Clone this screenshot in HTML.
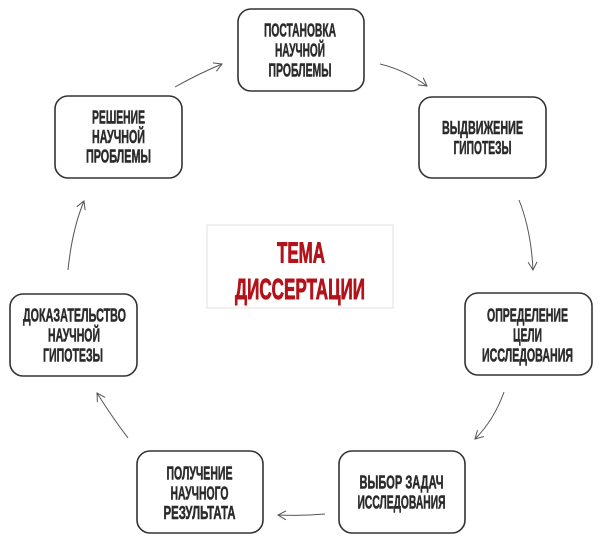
<!DOCTYPE html>
<html><head><meta charset="utf-8"><style>
html,body{margin:0;padding:0;background:#fff;}
svg{display:block;}
.t{font-family:"Liberation Sans","DejaVu Sans",sans-serif;font-weight:bold;font-size:18.5px;fill:#2b2b2b;stroke:#2b2b2b;stroke-width:0.55px;text-anchor:middle;}
.c{font-family:"Liberation Sans","DejaVu Sans",sans-serif;font-weight:bold;font-size:29px;fill:#b3121a;stroke:#b3121a;stroke-width:0.9px;text-anchor:middle;}
.b{fill:#fff;stroke:#333;stroke-width:1.6;}
.a{fill:none;stroke:#555;stroke-width:1;}
</style></head><body>
<svg width="600" height="539" viewBox="0 0 600 539" xmlns="http://www.w3.org/2000/svg">
<defs>
<marker id="ah" markerWidth="12" markerHeight="12" refX="9" refY="5" orient="auto" markerUnits="userSpaceOnUse">
<path d="M1,0.5 L9,5 L1,9.5" fill="none" stroke="#555" stroke-width="1"/>
</marker>
</defs>

<!-- boxes -->
<rect class="b" x="238" y="9" width="126" height="82" rx="13"/>
<rect class="b" x="419" y="97" width="127" height="81" rx="13"/>
<rect class="b" x="465" y="293" width="127" height="82" rx="13"/>
<rect class="b" x="339" y="451" width="126" height="82" rx="13"/>
<rect class="b" x="137" y="451" width="126" height="82" rx="13"/>
<rect class="b" x="10" y="294" width="127" height="82" rx="13"/>
<rect class="b" x="55" y="96" width="127" height="82" rx="13"/>

<rect x="207" y="225" width="186" height="83" fill="#fff" stroke="#e2e2e2" stroke-width="1"/>

<!-- texts -->
<text class="t" x="300" y="36.5" textLength="72" lengthAdjust="spacingAndGlyphs">ПОСТАНОВКА</text>
<text class="t" x="300" y="56.5" textLength="50" lengthAdjust="spacingAndGlyphs">НАУЧНОЙ</text>
<text class="t" x="300" y="76.5" textLength="63" lengthAdjust="spacingAndGlyphs">ПРОБЛЕМЫ</text>

<text class="t" x="482.5" y="134" textLength="81" lengthAdjust="spacingAndGlyphs">ВЫДВИЖЕНИЕ</text>
<text class="t" x="482.5" y="154" textLength="58" lengthAdjust="spacingAndGlyphs">ГИПОТЕЗЫ</text>

<text class="t" x="527.5" y="321.5" textLength="81" lengthAdjust="spacingAndGlyphs">ОПРЕДЕЛЕНИЕ</text>
<text class="t" x="527.5" y="341.5" textLength="29" lengthAdjust="spacingAndGlyphs">ЦЕЛИ</text>
<text class="t" x="527.5" y="361.5" textLength="91" lengthAdjust="spacingAndGlyphs">ИССЛЕДОВАНИЯ</text>

<text class="t" x="401.5" y="488.5" textLength="84" lengthAdjust="spacingAndGlyphs">ВЫБОР ЗАДАЧ</text>
<text class="t" x="401.5" y="508.5" textLength="88" lengthAdjust="spacingAndGlyphs">ИССЛЕДОВАНИЯ</text>

<text class="t" x="199.5" y="479.5" textLength="66" lengthAdjust="spacingAndGlyphs">ПОЛУЧЕНИЕ</text>
<text class="t" x="199.5" y="499.5" textLength="58" lengthAdjust="spacingAndGlyphs">НАУЧНОГО</text>
<text class="t" x="199.5" y="519" textLength="72" lengthAdjust="spacingAndGlyphs">РЕЗУЛЬТАТА</text>

<text class="t" x="74.5" y="321.5" textLength="103" lengthAdjust="spacingAndGlyphs">ДОКАЗАТЕЛЬСТВО</text>
<text class="t" x="74" y="341.5" textLength="52" lengthAdjust="spacingAndGlyphs">НАУЧНОЙ</text>
<text class="t" x="73" y="361.5" textLength="60" lengthAdjust="spacingAndGlyphs">ГИПОТЕЗЫ</text>

<text class="t" x="118.5" y="123.5" textLength="53" lengthAdjust="spacingAndGlyphs">РЕШЕНИЕ</text>
<text class="t" x="118.5" y="143" textLength="53" lengthAdjust="spacingAndGlyphs">НАУЧНОЙ</text>
<text class="t" x="118.5" y="162.5" textLength="65" lengthAdjust="spacingAndGlyphs">ПРОБЛЕМЫ</text>

<text class="c" x="301" y="262.5" textLength="48" lengthAdjust="spacingAndGlyphs">ТЕМА</text>
<text class="c" x="300" y="299" textLength="130" lengthAdjust="spacingAndGlyphs">ДИССЕРТАЦИИ</text>

<!-- arrows -->
<path class="a" d="M175,87 Q198,74 222,64" marker-end="url(#ah)"/>
<path class="a" d="M380,64 Q405,70 427,86" marker-end="url(#ah)"/>
<path class="a" d="M519,200 Q531,230 533,270" marker-end="url(#ah)"/>
<path class="a" d="M504,392 Q494,420 475,439" marker-end="url(#ah)"/>
<path class="a" d="M325,514 Q302,516 278,515" marker-end="url(#ah)"/>
<path class="a" d="M128,438 Q112,417 97,393" marker-end="url(#ah)"/>
<path class="a" d="M68,270 Q72,230 84,201" marker-end="url(#ah)"/>
</svg>
</body></html>
